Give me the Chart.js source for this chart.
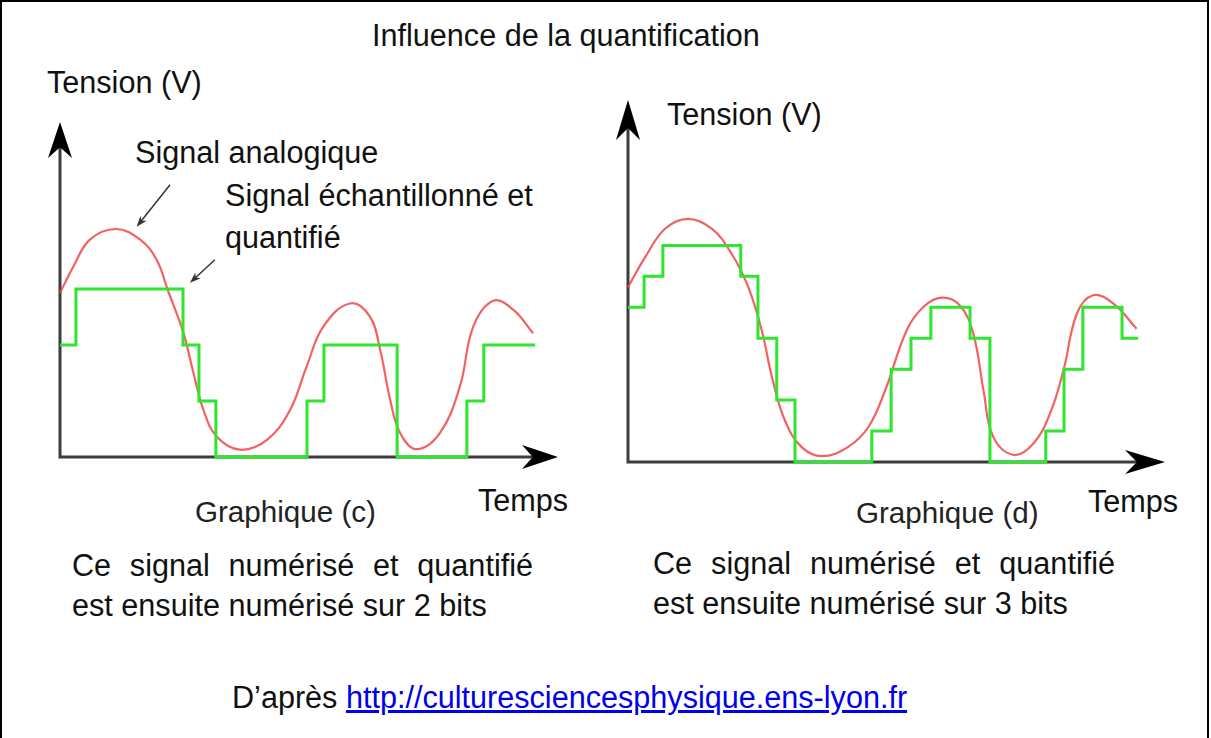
<!DOCTYPE html>
<html lang="fr">
<head>
<meta charset="utf-8">
<title>Influence de la quantification</title>
<script src="https://cdn.jsdelivr.net/npm/chart.js@4"></script>
<style>
  html, body { margin: 0; padding: 0; background: #fff; }
  body { width: 1211px; height: 738px; position: relative; overflow: hidden;
         font-family: "Liberation Sans", Arial, sans-serif; color: #111; }
  .frame { position: absolute; left: 0; top: 0; width: 1205px; height: 760px;
           border: 2px solid #000; box-sizing: content-box; }
  .t { position: absolute; font-size: 30.6px; line-height: 30px; white-space: nowrap; }
  .just { text-align: justify; text-align-last: justify; white-space: normal; }
  .cap { color: #222; font-size: 29.6px; }
  a { color: #0000ee; text-decoration: underline; }
  canvas { position: absolute; }
</style>
</head>
<body>
<div class="frame"></div>

<div class="t" style="left:372px; top:20px;">Influence de la quantification</div>

<div class="t" style="left:47px; top:67px;">Tension (V)</div>
<div class="t" style="left:135px; top:137px;">Signal analogique</div>
<div class="t" style="left:225px; top:180px;">Signal échantillonné et</div>
<div class="t" style="left:225px; top:222px;">quantifié</div>
<div class="t" style="left:478px; top:485px;">Temps</div>
<div class="t cap" style="left:195px; top:497px;">Graphique (c)</div>
<div class="t just" style="left:72px; top:550px; width:461px;">Ce signal numérisé et quantifié</div>
<div class="t" style="left:72px; top:590px;">est ensuite numérisé sur 2 bits</div>

<div class="t" style="left:667px; top:99px;">Tension (V)</div>
<div class="t" style="left:1088px; top:486px;">Temps</div>
<div class="t cap" style="left:856px; top:498px;">Graphique (d)</div>
<div class="t just" style="left:653px; top:548px; width:462px;">Ce signal numérisé et quantifié</div>
<div class="t" style="left:653px; top:588px;">est ensuite numérisé sur 3 bits</div>

<div class="t" style="left:232px; top:682px;">D’après <a href="http://culturesciencesphysique.ens-lyon.fr">http://culturesciencesphysique.ens-lyon.fr</a></div>

<canvas id="chartC" width="560" height="380" style="left:30px; top:100px;"></canvas>
<canvas id="chartD" width="600" height="410" style="left:600px; top:80px;"></canvas>

<script>
// Graphique (c) : signal analogique (temps 0..100, tension en quantums)
const analogC = [
  [0, 2.93], [2.7, 3.40], [6.0, 3.88], [11.2, 4.07], [16.1, 3.88], [19.4, 3.52],
  [21.6, 2.99], [24.8, 2.21], [26.8, 1.50], [28.8, 0.84], [31.5, 0.36], [36.1, 0.13],
  [41.5, 0.30], [46.2, 0.84], [49.5, 1.61], [52.9, 2.33], [58.2, 2.74], [62.2, 2.51],
  [64.3, 1.91], [66.3, 1.02], [68.3, 0.43], [71.6, 0.14], [76.3, 0.43], [80.3, 1.26],
  [83.0, 2.33], [87.0, 2.79], [91.0, 2.63], [95.0, 2.21]
];
// signal échantillonné et quantifié sur 2 bits (niveaux 0..3)
const stepsC = [
  [0, 2], [3.2, 3], [24.7, 2], [27.9, 1], [31.3, 0], [49.6, 1], [53.0, 2],
  [67.7, 0], [81.7, 1], [85.1, 2], [95.4, 2]
];

// Graphique (d)
const analogD = [
  [0, 5.65], [3.2, 6.62], [6.9, 7.54], [11.2, 7.86], [15.6, 7.54], [19.3, 6.73],
  [22.4, 5.65], [24.9, 4.26], [26.8, 2.75], [29.2, 1.35], [32.3, 0.49], [36.1, 0.19],
  [41.0, 0.49], [44.8, 1.14], [47.9, 2.32], [51.9, 4.26], [55.0, 5.01], [58.4, 5.31],
  [61.8, 5.06], [64.3, 4.15], [66.2, 2.32], [68.0, 0.82], [71.8, 0.23], [75.5, 0.60],
  [78.6, 1.57], [81.1, 2.97], [83.6, 4.80], [86.6, 5.39], [90.4, 5.12], [94.7, 4.31]
];
// quantifié sur 3 bits (niveaux 0..7)
const stepsD = [
  [0, 5], [3.0, 6], [6.5, 7], [21.0, 6], [24.2, 4], [27.7, 2], [31.1, 0],
  [45.4, 1], [49.0, 3], [52.7, 4], [56.4, 5], [63.7, 4], [67.4, 0], [77.8, 1],
  [81.2, 3], [84.7, 5], [92.0, 4], [95.0, 4]
];

// flèches d'annotation du graphique (c) : [départ, arrivée]
const arrowAnalog = [[22.1, 4.86], [15.4, 4.11]];
const arrowSampled = [[31.1, 3.52], [26.1, 3.11]];

const yMaxC = 5.98;
const yMaxD = 11.7;

const RED = 'rgba(240, 70, 70, 0.85)';
const GREEN = '#2fe52f';
const AXIS = '#3c3c3c';

function pts(arr) {
  return arr.map(p => ({ x: p[0], y: p[1] }));
}

function drawHead(ctx, x, y, angle, len, wid) {
  ctx.save();
  ctx.translate(x, y);
  ctx.rotate(angle);
  ctx.beginPath();
  ctx.moveTo(0, 0);
  ctx.lineTo(-len, -wid / 2);
  ctx.lineTo(-len * 0.7, 0);
  ctx.lineTo(-len, wid / 2);
  ctx.closePath();
  ctx.fill();
  ctx.restore();
}

// axes avec flèches, dessinés sous les courbes
const axesPlugin = {
  id: 'axesArrows',
  beforeDatasetsDraw(chart, args, opts) {
    const { ctx, chartArea: a } = chart;
    ctx.save();
    ctx.strokeStyle = AXIS;
    ctx.fillStyle = '#000';
    ctx.lineWidth = 3;
    ctx.beginPath();
    ctx.moveTo(a.left, a.bottom + 1.5);
    ctx.lineTo(a.left, a.top + 10);
    ctx.moveTo(a.left - 1.5, a.bottom);
    ctx.lineTo(a.right - 10, a.bottom);
    ctx.stroke();
    drawHead(ctx, a.left, a.top, -Math.PI / 2, opts.headLen || 36, opts.headWid || 24);
    drawHead(ctx, a.right, a.bottom, 0, opts.headLen || 36, opts.headWid || 24);
    ctx.restore();
  },
  afterDatasetsDraw(chart, args, opts) {
    if (!opts.notes) return;
    const { ctx } = chart;
    const xs = chart.scales.x, ys = chart.scales.y;
    ctx.save();
    ctx.strokeStyle = '#333';
    ctx.fillStyle = '#333';
    ctx.lineWidth = 1.5;
    opts.notes.forEach(n => {
      const x0 = xs.getPixelForValue(n[0][0]), y0 = ys.getPixelForValue(n[0][1]);
      const x1 = xs.getPixelForValue(n[1][0]), y1 = ys.getPixelForValue(n[1][1]);
      const ang = Math.atan2(y1 - y0, x1 - x0);
      ctx.beginPath();
      ctx.moveTo(x0, y0);
      ctx.lineTo(x1 - 6 * Math.cos(ang), y1 - 6 * Math.sin(ang));
      ctx.stroke();
      drawHead(ctx, x1, y1, ang, 11, 8);
    });
    ctx.restore();
  }
};

function makeChart(id, analog, steps, yMax, padding, extra) {
  return new Chart(document.getElementById(id), {
    type: 'line',
    data: {
      datasets: [
        {
          label: 'Signal échantillonné et quantifié',
          data: pts(steps),
          stepped: 'before',
          borderColor: GREEN,
          borderWidth: 3,
          pointRadius: 0,
          fill: false,
          clip: false
        },
        {
          label: 'Signal analogique',
          data: pts(analog),
          borderColor: RED,
          borderWidth: 2.2,
          tension: 0.4,
          pointRadius: 0,
          fill: false,
          clip: false
        }
      ]
    },
    options: {
      responsive: false,
      animation: false,
      layout: { padding: padding },
      scales: {
        x: { type: 'linear', min: 0, max: 100, display: false },
        y: { type: 'linear', min: 0, max: yMax, display: false }
      },
      plugins: {
        legend: { display: false },
        tooltip: { enabled: false },
        axesArrows: extra
      }
    },
    plugins: [axesPlugin]
  });
}

makeChart('chartC', analogC, stepsC, yMaxC,
  { left: 30, right: 32, top: 22, bottom: 23 },
  { headLen: 36, headWid: 24, notes: [arrowAnalog, arrowSampled] });

makeChart('chartD', analogD, stepsD, yMaxD,
  { left: 28, right: 35, top: 20, bottom: 28 },
  { headLen: 40, headWid: 24 });
</script>
</body>
</html>
